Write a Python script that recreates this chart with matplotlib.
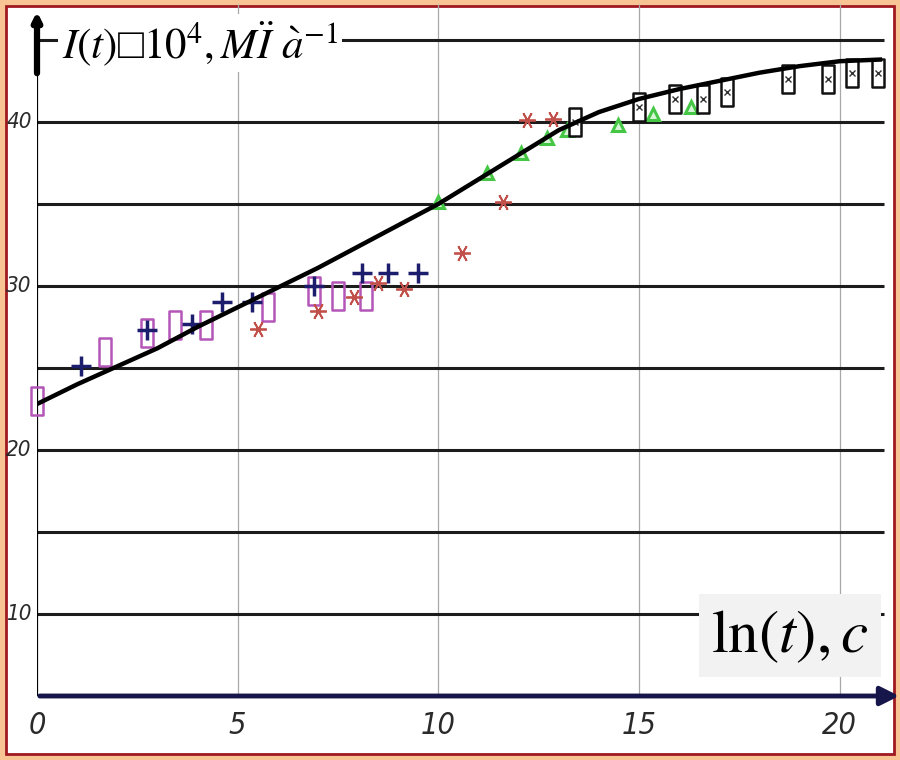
import matplotlib
matplotlib.use('Agg')
import matplotlib.pyplot as plt
from matplotlib.patches import Rectangle
from matplotlib.path import Path

plt.rcParams['mathtext.fontset'] = 'stix'

# fitted curve I(t) vs ln(t)
fit_x = [0, 1, 2, 3, 4, 5, 6, 7, 8, 9, 10, 11, 12, 13, 14, 15, 16, 17, 18, 19, 20, 21]
fit_y = [22.8, 24.0, 25.1, 26.2, 27.5, 28.7, 29.9, 31.1, 32.4, 33.7, 35.0, 36.5,
         38.0, 39.5, 40.6, 41.4, 42.0, 42.5, 43.0, 43.4, 43.7, 43.8]

# experimental points, one list pair per series
rect_x = [0.0, 1.7, 2.75, 3.45, 4.2, 5.75, 6.9, 7.5, 8.2]
rect_y = [23.0, 26.0, 27.1, 27.6, 27.6, 28.7, 29.7, 29.4, 29.4]

plus_x = [1.1, 2.75, 3.85, 4.6, 5.35, 6.9, 8.1, 8.75, 9.5]
plus_y = [25.1, 27.3, 27.7, 29.0, 29.0, 30.0, 30.8, 30.8, 30.8]

star_x = [5.5, 7.0, 7.9, 8.5, 9.15, 10.6, 11.6, 12.2, 12.85]
star_y = [27.4, 28.5, 29.3, 30.2, 29.8, 32.0, 35.1, 40.1, 40.2]

tri_x = [10.0, 11.2, 12.07, 12.7, 13.2, 14.47, 15.34, 16.3]
tri_y = [35.1, 36.9, 38.1, 39.0, 39.5, 39.8, 40.5, 40.9]

box_x = [13.4, 15.0, 15.9, 16.6, 17.2, 18.7, 19.7, 20.3, 20.95]
box_y = [40.0, 40.9, 41.4, 41.4, 41.8, 42.6, 42.6, 43.0, 43.0]

x_ticks = [0, 5, 10, 15, 20]
y_ticks = [10, 20, 30, 40]
grid_y = [10, 15, 20, 25, 30, 35, 40, 45]

tall_box = Path([(-0.2, -0.5), (0.2, -0.5), (0.2, 0.5), (-0.2, 0.5), (-0.2, -0.5)],
                [Path.MOVETO, Path.LINETO, Path.LINETO, Path.LINETO, Path.CLOSEPOLY])

fig = plt.figure(figsize=(9, 7.6), dpi=100, facecolor='#f9c494')
fig.patches.append(Rectangle((6 / 900, 6 / 760), 888 / 900, 748 / 760,
                             transform=fig.transFigure, facecolor='white',
                             edgecolor='#a01820', lw=2, zorder=-1))

ax = fig.add_axes([37 / 900, 64 / 760, 861 / 900, 684 / 760])
ax.patch.set_alpha(0)
ax.set_xlim(0, 21.45)
ax.set_ylim(5, 46.7)
ax.axis('off')

# grid
ax.vlines([5, 10, 15, 20], 5, 47.2, color='#a8a8a8', lw=0.9, clip_on=False, zorder=1)
ax.hlines(grid_y, 0, 21.1, color='#1c1c1c', lw=2.2, zorder=1)

# axes with arrows
ax.plot([0, 0], [5, 46], color='black', lw=1.6, zorder=2)
ax.annotate('', xy=(0, 46.9), xytext=(0, 42.8),
            arrowprops=dict(arrowstyle='-|>', lw=4.5, color='black', mutation_scale=12),
            annotation_clip=False)
ax.annotate('', xy=(21.55, 5), xytext=(0, 5),
            arrowprops=dict(arrowstyle='-|>', lw=3.5, color='#16164a', mutation_scale=28),
            annotation_clip=False)

# tick labels
tick_font = dict(family=['Liberation Sans Narrow', 'DejaVu Sans'], style='italic',
                 fontstretch='condensed', color='#2a2a2a')
for v in x_ticks:
    ax.text(v, 3.2, str(v), ha='center', va='center', fontsize=22, clip_on=False, **tick_font)
for v in y_ticks:
    ax.text(-0.45, v, str(v), ha='center', va='center', fontsize=16, clip_on=False, **tick_font)

# data
ax.plot(rect_x, rect_y, ls='none', marker=tall_box, ms=20, mfc='none',
        mec='#b455b8', mew=1.8, clip_on=False, zorder=3)
ax.plot(plus_x, plus_y, ls='none', marker='+', ms=14, mec='#1d1d6e', mew=2.5, zorder=4)
ax.plot(star_x, star_y, ls='none', marker=(6, 2, 90), ms=12, mec='#c2504a', mew=1.3, zorder=4)
ax.plot(tri_x, tri_y, ls='none', marker='^', ms=9, mfc='#d8f5d8', mec='#45c645', mew=2.2, zorder=4)
ax.plot(box_x, box_y, ls='none', marker=tall_box, ms=20, mfc='white',
        mec='#111111', mew=1.8, zorder=4)
ax.plot(box_x, box_y, ls='none', marker='x', ms=5, mec='#333333', mew=1.0, zorder=5)

ax.plot(fit_x, fit_y, color='black', lw=3.2, zorder=6)

# axis captions
ax.text(0.62, 44.8, r'$I(t)$' + '\u25a1' + r'$10^4,M\ddot{I}\ \grave{a}^{-1}$',
        family=['Liberation Serif', 'DejaVu Serif'], fontsize=31, ha='left', va='center',
        bbox=dict(facecolor='white', edgecolor='none', pad=3), zorder=7)
ax.text(18.75, 8.7, r'$\mathrm{ln}(t),c$', fontsize=44, ha='center', va='center',
        bbox=dict(facecolor='#f2f2f2', edgecolor='none', pad=9), zorder=7)

fig.savefig('out.png', dpi=100, facecolor=fig.get_facecolor())
